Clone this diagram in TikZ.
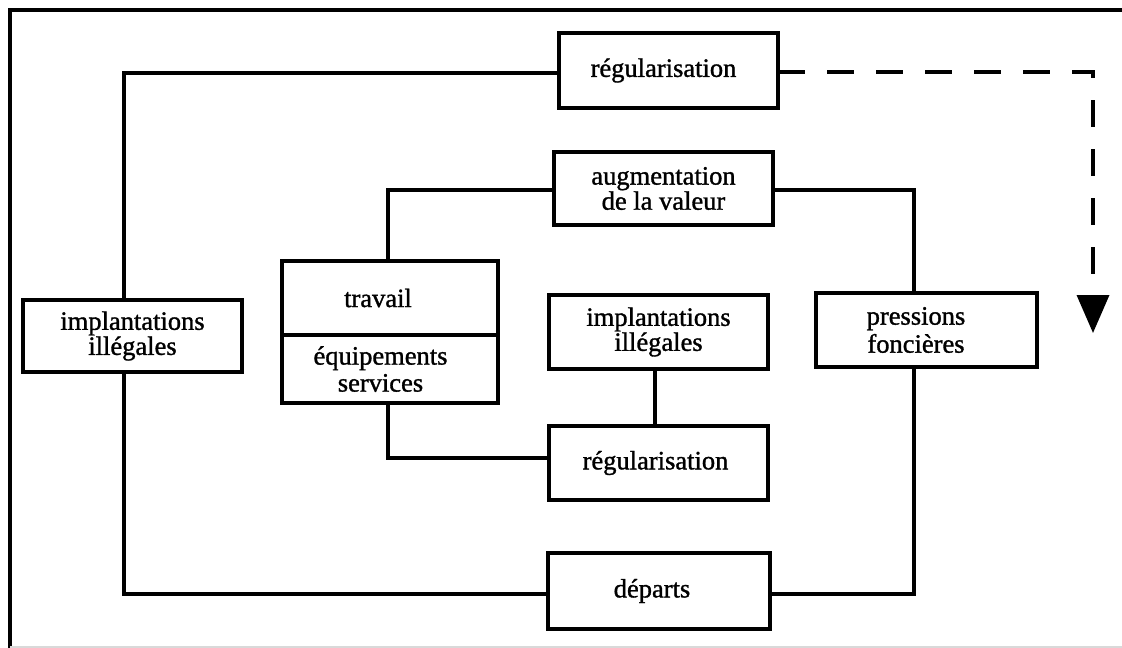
\documentclass[tikz,border=0pt]{standalone}
\usepackage{fontspec}
\setmainfont[FakeBold=1.2]{Liberation Serif}
\usetikzlibrary{arrows.meta}
\newcommand{\padr}[1]{\rule{#1}{0pt}}
\begin{document}
\begin{tikzpicture}[x=1pt,y=-1pt,
  box/.style={draw, line width=3.5pt, rectangle, inner sep=0pt, outer sep=0pt,
    align=center, font=\fontsize{26.5}{22}\selectfont},
  link/.style={line width=3.2pt},
  dashlink/.style={line width=3.6pt, dash pattern=on 27pt off 22pt},
  frame/.style={line width=3.8pt}]
\useasboundingbox (0,0) rectangle (1122,648);
% frame
\draw[frame] (10,648) -- (10,10) -- (1122,10);
\draw[gray!30, line width=1.2pt] (10,647) -- (1122,647);
% boxes
\node[box, minimum width=219pt, minimum height=75pt] (R1) at (668.5,70.5) {régularisation\padr{10pt}};
\node[box, minimum width=219pt, minimum height=73pt] (A) at (663.5,188.5) {augmentation\\de la valeur};
\node[box, minimum width=219pt, minimum height=72pt, font=\fontsize{26.5}{21}\selectfont] (L) at (132.5,336) {implantations\\illégales};
\node[box, minimum width=216pt, minimum height=74pt] (T1) at (390,298) {travail\padr{24pt}};
\node[box, minimum width=216pt, minimum height=68pt, font=\fontsize{26.5}{27}\selectfont] (T2) at (390,369) {équipements\padr{19pt}\\services\padr{19pt}};
\node[box, minimum width=219pt, minimum height=74pt, font=\fontsize{26.5}{25}\selectfont] (I) at (658.5,332) {implantations\\illégales};
\node[box, minimum width=219pt, minimum height=74pt] (R2) at (658.5,463) {régularisation\padr{6pt}};
\node[box, minimum width=221pt, minimum height=74pt, font=\fontsize{26.5}{28}\selectfont] (P) at (926.5,330) {pressions\padr{21pt}\\foncières\padr{21pt}};
\node[box, minimum width=222pt, minimum height=76pt] (D) at (659,591) {départs\padr{14pt}};
\coordinate (tip) at (1093,333);
% connectors
\draw[link] ([xshift=-8.5pt]L.north) |- ([yshift=-2.5pt]R1.west);
\draw[link] ([xshift=-8.5pt]L.south) |- ([yshift=-3pt]D.west);
\draw[link] ([xshift=-2pt]T1.north) |- ([yshift=-1.5pt]A.west);
\draw[link] ([yshift=-1.5pt]A.east) -| ([xshift=-12.5pt]P.north);
\draw[link] ([xshift=-12.5pt]P.south) |- ([yshift=-3pt]D.east);
\draw[link] ([xshift=-2pt]T2.south) |- ([yshift=5pt]R2.west);
\draw[link] ([xshift=-3.5pt]I.south) -- ([xshift=-3.5pt]R2.north);
\draw[dashlink, -{Triangle[length=38pt,width=32pt]}] ([yshift=-1.5pt]R1.east) -| (tip);
\end{tikzpicture}
\end{document}
